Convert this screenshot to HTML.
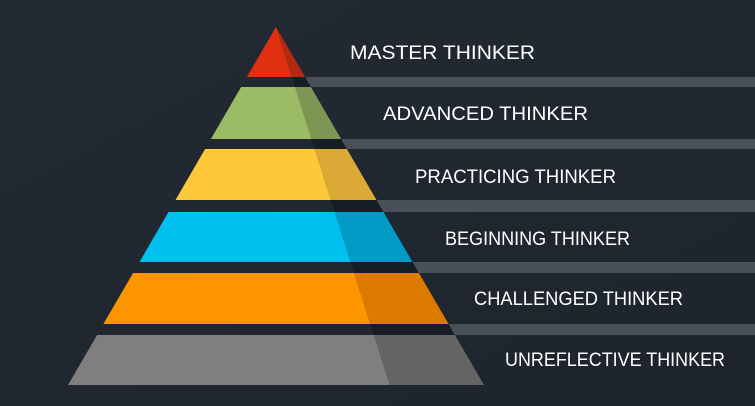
<!DOCTYPE html>
<html><head><meta charset="utf-8"><style>
html,body{margin:0;padding:0;background:#1f2630;}
svg{display:block}
text{font-family:"Liberation Sans",sans-serif;font-size:19px;fill:#fff;}
</style></head><body>
<svg width="755" height="406" viewBox="0 0 755 406" xmlns="http://www.w3.org/2000/svg">
<defs><linearGradient id="bg" x1="0" y1="0" x2="1" y2="1"><stop offset="0" stop-color="#232a34"/><stop offset="1" stop-color="#1d242d"/></linearGradient></defs>
<rect width="755" height="406" fill="url(#bg)"/>
<!-- gap shadows -->
<g fill="#171d25">
<polygon points="291.9,77 305.1,77 310.9,87 295.1,87"/>
<polygon points="311.6,139 341.1,139 346.9,149 314.8,149"/>
<polygon points="331,200 376.5,200 383.5,212 334.8,212"/>
<polygon points="350.7,262 412.5,262 418.9,273 354.2,273"/>
<polygon points="370.4,324 448.6,324 454.9,335 373.9,335"/>
</g>
<g fill="#4a5059">
<polygon points="305.1,77 755,77 755,87 310.9,87"/>
<polygon points="341.1,139 755,139 755,149 346.9,149"/>
<polygon points="376.5,200 755,200 755,212 383.5,212"/>
<polygon points="412.5,262 755,262 755,273 418.9,273"/>
<polygon points="448.6,324 755,324 755,335 454.9,335"/>
</g>
<polygon points="276,27 291.9,77 246.9,77" fill="#e0300f"/>
<polygon points="276,27 305.1,77 291.9,77" fill="#b32a13"/>
<polygon points="241.1,87 295.1,87 311.6,139 210.9,139" fill="#9bbb65"/>
<polygon points="295.1,87 310.9,87 341.1,139 311.6,139" fill="#7e9653"/>
<polygon points="205.1,149 314.8,149 331,200 175.5,200" fill="#fdc93a"/>
<polygon points="314.8,149 346.9,149 376.5,200 331,200" fill="#dba936"/>
<polygon points="168.5,212 334.8,212 350.7,262 139.5,262" fill="#00c0ef"/>
<polygon points="334.8,212 383.5,212 412.5,262 350.7,262" fill="#009ac4"/>
<polygon points="133.1,273 354.2,273 370.4,324 103.4,324" fill="#fd9500"/>
<polygon points="354.2,273 418.9,273 448.6,324 370.4,324" fill="#dc7a00"/>
<polygon points="97.1,335 373.9,335 389.8,385 68,385" fill="#7f7f7f"/>
<polygon points="373.9,335 454.9,335 484,385 389.8,385" fill="#646464"/>
<text x="350" y="59" textLength="185" lengthAdjust="spacingAndGlyphs">MASTER THINKER</text>
<text x="383" y="120" textLength="205" lengthAdjust="spacingAndGlyphs">ADVANCED THINKER</text>
<text x="415" y="183" textLength="201" lengthAdjust="spacingAndGlyphs">PRACTICING THINKER</text>
<text x="445" y="245" textLength="185" lengthAdjust="spacingAndGlyphs">BEGINNING THINKER</text>
<text x="474" y="305" textLength="209" lengthAdjust="spacingAndGlyphs">CHALLENGED THINKER</text>
<text x="505" y="366" textLength="220" lengthAdjust="spacingAndGlyphs">UNREFLECTIVE THINKER</text>
</svg>
</body></html>
